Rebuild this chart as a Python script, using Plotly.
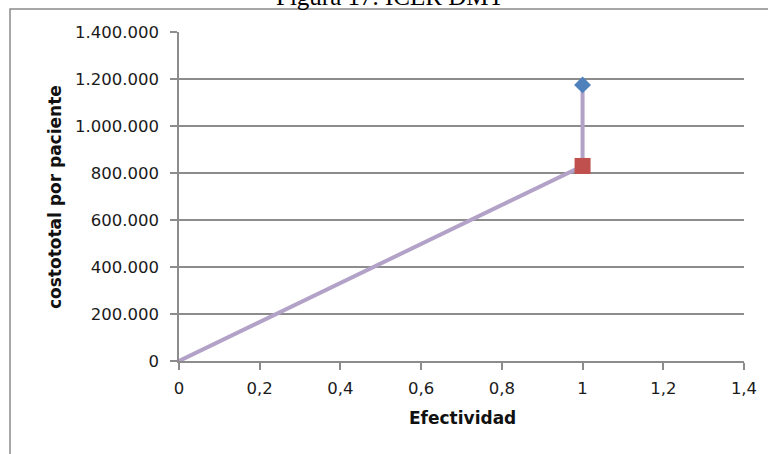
import plotly.graph_objects as go

# Costo total por paciente frente a efectividad
efectividad_linea = [0, 1, 1]
costo_linea = [0, 830000, 1175000]

efectividad_dmt = [1]
costo_dmt = [1175000]

efectividad_comparador = [1]
costo_comparador = [830000]

y_ticks = [0, 200000, 400000, 600000, 800000, 1000000, 1200000, 1400000]
x_ticks = [0, 0.2, 0.4, 0.6, 0.8, 1, 1.2, 1.4]

W, H = 768, 454
L, R, T, B = 179, 24, 32, 93
pw, ph = W - L - R, H - T - B


def px(x):
    return (x - L) / pw


def py(y):
    return (H - B - y) / ph


fig = go.Figure()

fig.add_trace(go.Scatter(
    x=efectividad_linea, y=costo_linea, mode="lines",
    line=dict(color="#B3A2C7", width=4), hoverinfo="skip", showlegend=False,
))
fig.add_trace(go.Scatter(
    x=efectividad_comparador, y=costo_comparador, mode="markers",
    marker=dict(symbol="square", size=16, color="#C0504D"), showlegend=False,
))
fig.add_trace(go.Scatter(
    x=efectividad_dmt, y=costo_dmt, mode="markers",
    marker=dict(symbol="diamond", size=13, color="#4F81BD"), showlegend=False,
))

sans = "'DejaVu Sans', Verdana, sans-serif"
tick_font = dict(family=sans, size=16.5, color="#1a1a1a")
title_font = dict(family=sans, size=17, color="#111111")

fig.update_xaxes(
    range=[0, 1.4], tickvals=x_ticks, showgrid=False, zeroline=False,
    showline=True, linecolor="#8c8c8c", linewidth=1.5,
    ticks="outside", ticklen=7, tickcolor="#8c8c8c", tickwidth=1.5,
    tickfont=tick_font, ticklabelstandoff=4,
)
fig.update_yaxes(
    range=[0, 1400000], tickvals=y_ticks, tickformat=",d",
    showgrid=True, gridcolor="#8c8c8c", gridwidth=1.5, zeroline=False,
    showline=True, linecolor="#8c8c8c", linewidth=1.5,
    ticks="outside", ticklen=7, tickcolor="#8c8c8c", tickwidth=1.5,
    tickfont=tick_font, ticklabelstandoff=8,
)

fig.update_layout(
    width=W, height=H,
    margin=dict(l=L, r=R, t=T, b=B),
    paper_bgcolor="white", plot_bgcolor="white",
    separators=",.",
    shapes=[dict(
        type="rect", xref="paper", yref="paper",
        x0=px(10), x1=px(800), y0=py(9), y1=py(480),
        line=dict(color="#8a8a8a", width=1.5), layer="below",
    )],
    annotations=[
        dict(text="Figura 17. ICER DMT", xref="paper", yref="paper",
             x=px(390), y=py(-4), xanchor="center", yanchor="middle",
             showarrow=False,
             font=dict(family="'Liberation Serif', 'Times New Roman', serif",
                       size=25, color="#000000")),
        dict(text="<b>costototal por paciente</b>", xref="paper", yref="paper",
             x=px(55), y=py(197), xanchor="center", yanchor="middle",
             textangle=-90, showarrow=False, font=title_font),
        dict(text="<b>Efectividad</b>", xref="paper", yref="paper",
             x=px(462), y=py(418), xanchor="center", yanchor="middle",
             showarrow=False, font=title_font),
    ],
)

fig.write_html("out.html")
